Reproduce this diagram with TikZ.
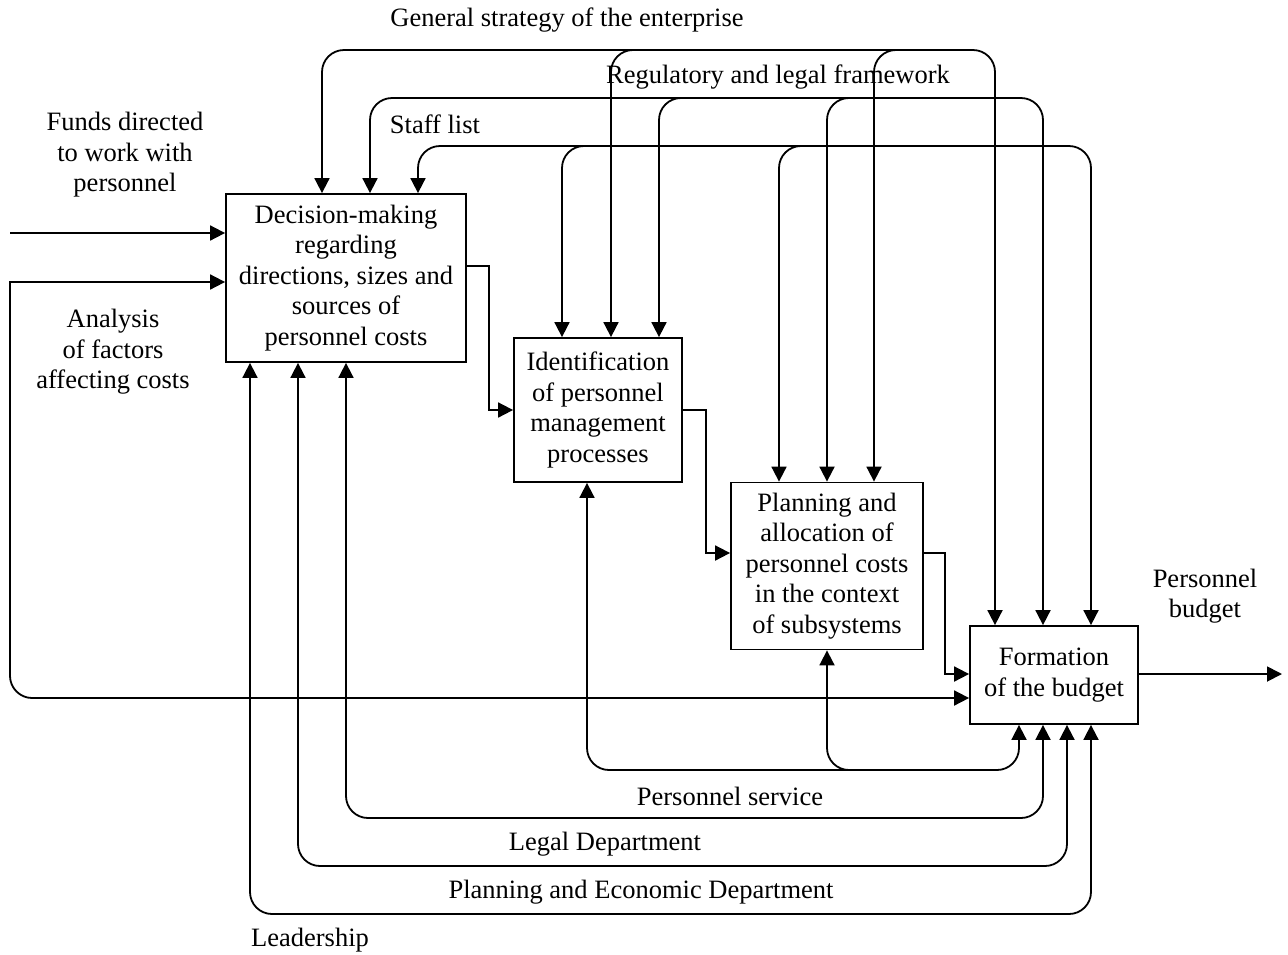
\documentclass[tikz,border=0pt]{standalone}
\usepackage{fontspec}
\setmainfont{Liberation Serif}
\usetikzlibrary{arrows.meta,calc}
\begin{document}
\begin{tikzpicture}[x=1pt,y=-1pt,
  every node/.style={font=\fontsize{26.5}{30.5}\selectfont, inner sep=0pt},
  box/.style={draw, line width=1.8pt, align=center},
  lbl/.style={align=center},
  wire/.style={line width=1.8pt},
  roundwire/.style={wire, rounded corners=22pt},
  tip/.style={-{Triangle[length=15pt,width=15pt]}},
  tips/.style={{Triangle[length=15pt,width=15pt]}-{Triangle[length=15pt,width=15pt]}},
]
\useasboundingbox (0,0) rectangle (1288,954);

% function blocks
\node[box, minimum width=240pt, minimum height=168pt] (A) at (346,278)
  {Decision-making\\regarding\\directions, sizes and\\sources of\\personnel costs};
\node[box, minimum width=168pt, minimum height=144pt] (B) at (598,410)
  {Identification\\of personnel\\management\\processes};
\node[box, minimum width=192pt, minimum height=167pt] (C) at (827,566)
  {Planning and\\allocation of\\personnel costs\\in the context\\of subsystems};
\node[box, minimum width=168pt, minimum height=98pt] (D) at (1054,675)
  {\raisebox{9pt}{\begin{tabular}{@{}c@{}}Formation\\of the budget\end{tabular}}};

% control ports (top) and mechanism ports (bottom)
\coordinate (Ai1) at ($(A.north)+(-24,0)$);
\coordinate (Ai2) at ($(A.north)+(24,0)$);
\coordinate (Ai3) at ($(A.north)+(72,0)$);
\coordinate (Bi1) at ($(B.north)+(-36,0)$);
\coordinate (Bi2) at ($(B.north)+(13,0)$);
\coordinate (Bi3) at ($(B.north)+(61,0)$);
\coordinate (Ci1) at ($(C.north)+(-48,0)$);
\coordinate (Ci2) at (C.north);
\coordinate (Ci3) at ($(C.north)+(47,0)$);
\coordinate (Di1) at ($(D.north)+(-59,0)$);
\coordinate (Di2) at ($(D.north)+(-11,0)$);
\coordinate (Di3) at ($(D.north)+(37,0)$);
\coordinate (Ao1) at ($(A.south)+(-96,0)$);
\coordinate (Ao2) at ($(A.south)+(-48,0)$);
\coordinate (Ao3) at (A.south);
\coordinate (Bo) at ($(B.south)+(-11,0)$);
\coordinate (Co) at (C.south);
\coordinate (Do1) at ($(D.south)+(-35,0)$);
\coordinate (Do2) at ($(D.south)+(-11,0)$);
\coordinate (Do3) at ($(D.south)+(13,0)$);
\coordinate (Do4) at ($(D.south)+(37,0)$);

% track levels
\coordinate (t1) at (0,50);
\coordinate (t2) at (0,98);
\coordinate (t3) at (0,146);
\coordinate (b1) at (0,770);
\coordinate (b2) at (0,818);
\coordinate (b3) at (0,866);
\coordinate (b4) at (0,914);

% General strategy of the enterprise
\draw[roundwire,tips] (Ai1) |- (Di1 |- t1) -- (Di1);
\draw[roundwire,tip] ($(Bi2 |- t1)+(30,0)$) -| (Bi2);
\draw[roundwire,tip] ($(Ci3 |- t1)+(30,0)$) -| (Ci3);
% Regulatory and legal framework
\draw[roundwire,tips] (Ai2) |- (Di2 |- t2) -- (Di2);
\draw[roundwire,tip] ($(Bi3 |- t2)+(30,0)$) -| (Bi3);
\draw[roundwire,tip] ($(Ci2 |- t2)+(30,0)$) -| (Ci2);
% Staff list
\draw[roundwire,tips] (Ai3) |- (Di3 |- t3) -- (Di3);
\draw[roundwire,tip] ($(Bi1 |- t3)+(30,0)$) -| (Bi1);
\draw[roundwire,tip] ($(Ci1 |- t3)+(30,0)$) -| (Ci1);

% mechanisms
\draw[roundwire,tips] (Bo) |- (Do1 |- b1) -- (Do1);
\draw[roundwire,tip] ($(Co |- b1)+(30,0)$) -| (Co);
\draw[roundwire,tips] (Ao3) |- (Do2 |- b2) -- (Do2);
\draw[roundwire,tips] (Ao2) |- (Do3 |- b3) -- (Do3);
\draw[roundwire,tips] (Ao1) |- (Do4 |- b4) -- (Do4);

% inputs
\coordinate (fin) at (10,233);
\draw[wire,tip] (fin) -- (fin -| A.west);
\coordinate (anl) at (10,282);
\coordinate (anb) at (10,698);
\draw[wire,tips] (anl -| A.west) -- (anl) -- ($(anb)+(0,-22)$)
  .. controls ($(anb)+(0,-10)$) and ($(anb)+(10,0)$) .. ($(anb)+(22,0)$)
  -- (anb -| D.west);

% block-to-block flows
\draw[wire,tip] ($(A.east)+(0,-12)$) -| ($(B.west)+(-24,0)$) -- (B.west);
\draw[wire,tip] (B.east) -| ($(C.west)+(-24,-13)$) -- ($(C.west)+(0,-13)$);
\draw[wire,tip] ($(C.east)+(0,-13)$) -| ($(D.west)+(-24,-1)$) -- ($(D.west)+(0,-1)$);
\coordinate (out) at (1282,674);
\draw[wire,tip] (out -| D.east) -- (out);

% labels
\node[lbl] (lgs) at (567,20) {General strategy of the enterprise};
\node[lbl] (lrf) at (778,77) {Regulatory and legal framework};
\node[lbl] (lsl) at (435,124) {Staff list};
\node[lbl] (lfd) at (125,155) {Funds directed\\to work with\\personnel};
\node[lbl] (laf) at (113,352) {Analysis\\of factors\\affecting costs};
\node[lbl] (lpb) at (1205,596) {Personnel\\budget};
\node[lbl] (lps) at (730,796) {Personnel service};
\node[lbl] (lld) at (605,844) {Legal Department};
\node[lbl] (lpe) at (641,892) {Planning and Economic Department};
\node[lbl] (lle) at (310,940) {Leadership};
\end{tikzpicture}
\end{document}
